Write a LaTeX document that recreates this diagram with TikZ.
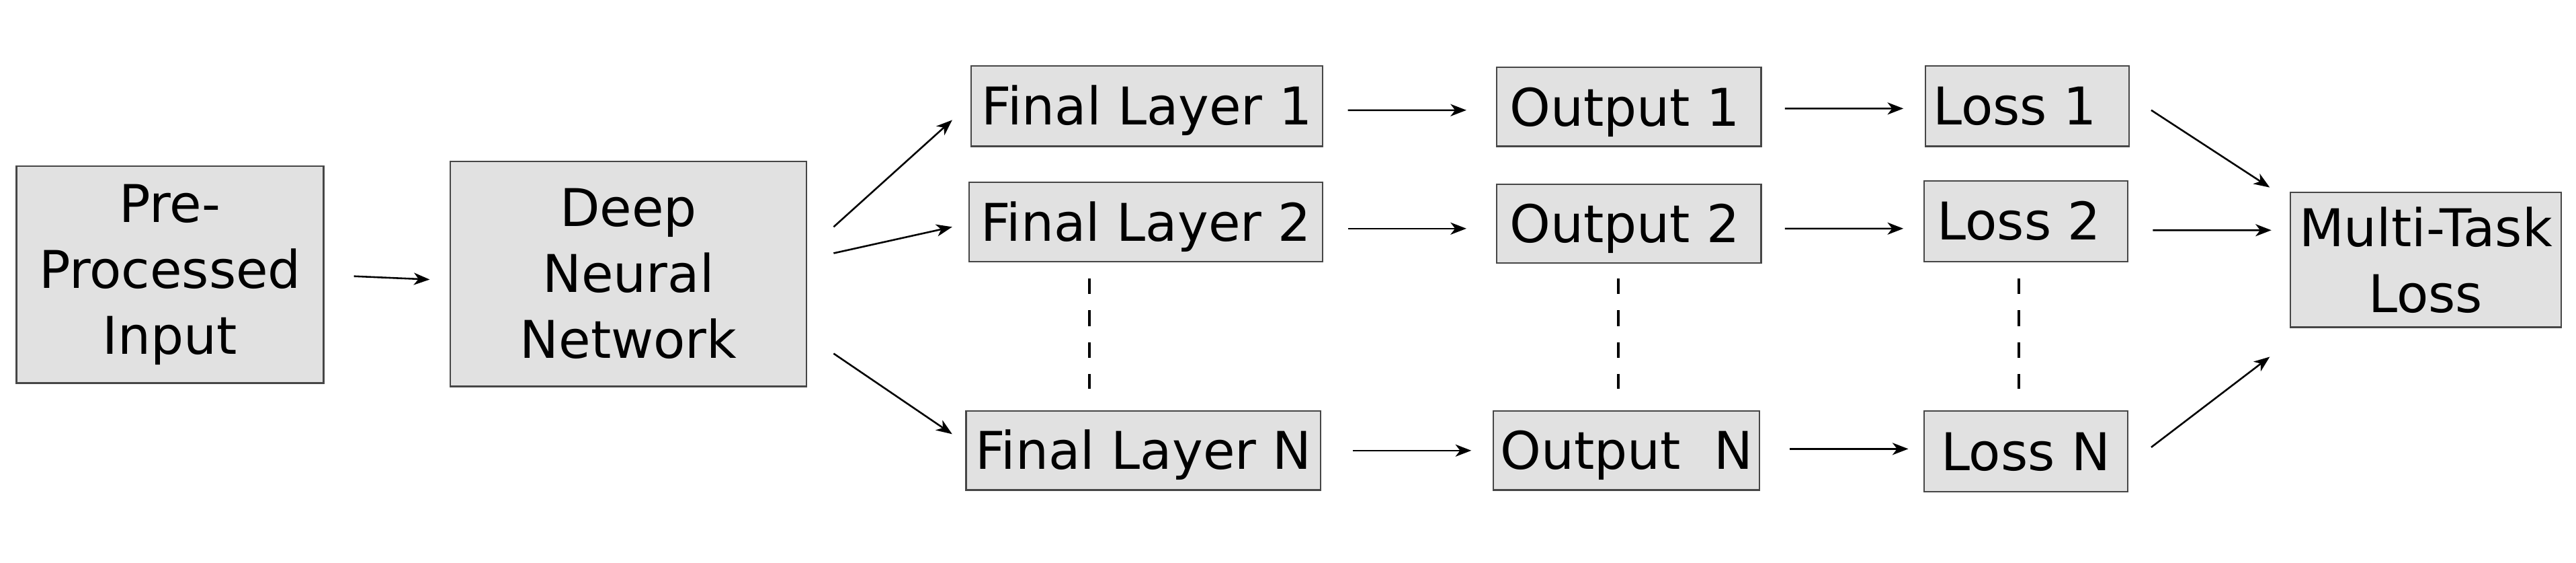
\documentclass[tikz,border=0pt]{standalone}
\usepackage{fontspec}
\setmainfont{DejaVu Sans}
\usetikzlibrary{calc,arrows.meta}

\definecolor{boxgray}{RGB}{225,225,225}
\definecolor{edgegray}{RGB}{70,70,70}

\begin{document}
\begin{tikzpicture}[x=0.02cm,y=-0.02cm,
  every node/.style={draw=edgegray,line width=0.5pt,fill=boxgray,inner sep=0pt,align=center,
    font=\fontsize{18}{22.8}\selectfont},
  oneline/.style={text height=13.1pt,text depth=0pt},
  link/.style={-{Stealth[length=5.5pt,width=4.2pt,inset=1.6pt]},line width=0.6pt},
  gap/.style={dash pattern=on 5.4pt off 5.6pt,line width=0.9pt}]
  \useasboundingbox (0,0) rectangle (1568,342);
  \node[minimum width=3.74cm,minimum height=2.64cm] (pre) at (103.5,167) {Pre-\\Processed\\Input};
  \node[minimum width=4.34cm,minimum height=2.74cm] (dnn) at (382.5,166.5) {Deep\\Neural\\Network};
  \node[oneline,minimum width=4.28cm,minimum height=0.98cm] (fl1) at (698,64.5) {Final Layer 1};
  \node[oneline,minimum width=4.30cm,minimum height=0.96cm] (fl2) at (697.5,135) {Final Layer 2};
  \node[oneline,minimum width=4.32cm,minimum height=0.96cm] (fln) at (696,274) {Final Layer N};
  \node[oneline,minimum width=3.22cm,minimum height=0.96cm] (out1) at (991.5,65) {Output 1\hspace{3pt}};
  \node[oneline,minimum width=3.22cm,minimum height=0.96cm] (out2) at (991.5,136) {Output 2\hspace{3pt}};
  \node[oneline,minimum width=3.24cm,minimum height=0.96cm] (outn) at (990,274) {Output~ N};
  \node[oneline,minimum width=2.48cm,minimum height=0.98cm] (loss1) at (1234,64.5) {Loss 1\hspace{8.5pt}};
  \node[oneline,minimum width=2.48cm,minimum height=0.98cm] (loss2) at (1233,134.5) {Loss 2\hspace{4.5pt}};
  \node[oneline,minimum width=2.48cm,minimum height=0.98cm] (lossn) at (1233,274.5) {Loss N};
  \node[minimum width=3.30cm,minimum height=1.64cm] (mtl) at (1476.5,158) {Multi-Task\\Loss};
  \draw[link] ($(pre.east)+(18,1)$) -- ($(dnn.west)+(-12,3.5)$);
  \draw[link] ($(dnn.east)+(16,-28.5)$) -- ($(fl1.west)+(-11,8.5)$);
  \draw[link] ($(dnn.east)+(16,-12.5)$) -- ($(fl2.west)+(-10,3)$);
  \draw[link] ($(dnn.east)+(16,48.5)$) -- ($(fln.west)+(-8,-10)$);
  \draw[link] ($(fl1.east)+(15,2.5)$) -- ($(out1.west)+(-18,2)$);
  \draw[link] ($(fl2.east)+(15,4)$) -- ($(out2.west)+(-18,3)$);
  \draw[link] ($(fln.east)+(19,0)$) -- ($(outn.west)+(-13,0)$);
  \draw[link] ($(out1.east)+(14,1)$) -- ($(loss1.west)+(-13,1.5)$);
  \draw[link] ($(out2.east)+(14,3)$) -- ($(loss2.west)+(-12,4.5)$);
  \draw[link] ($(outn.east)+(18,-1)$) -- ($(lossn.west)+(-9,-1.5)$);
  \draw[link] ($(loss1.east)+(13,2.5)$) -- ($(mtl.west)+(-12,-44)$);
  \draw[link] ($(loss2.east)+(15,5.5)$) -- ($(mtl.west)+(-11,-18)$);
  \draw[link] ($(lossn.east)+(14,-2.5)$) -- ($(mtl.west)+(-12,59)$);
  \draw[gap] ($(fl2.south)+(-34.5,10)$) -- ($(fln.north)+(-33,-13)$);
  \draw[gap] ($(out2.south)+(-6.5,9)$) -- ($(outn.north)+(-5,-13)$);
  \draw[gap] ($(loss2.south)+(-4,10)$) -- ($(lossn.north)+(-4,-13)$);
\end{tikzpicture}
\end{document}
